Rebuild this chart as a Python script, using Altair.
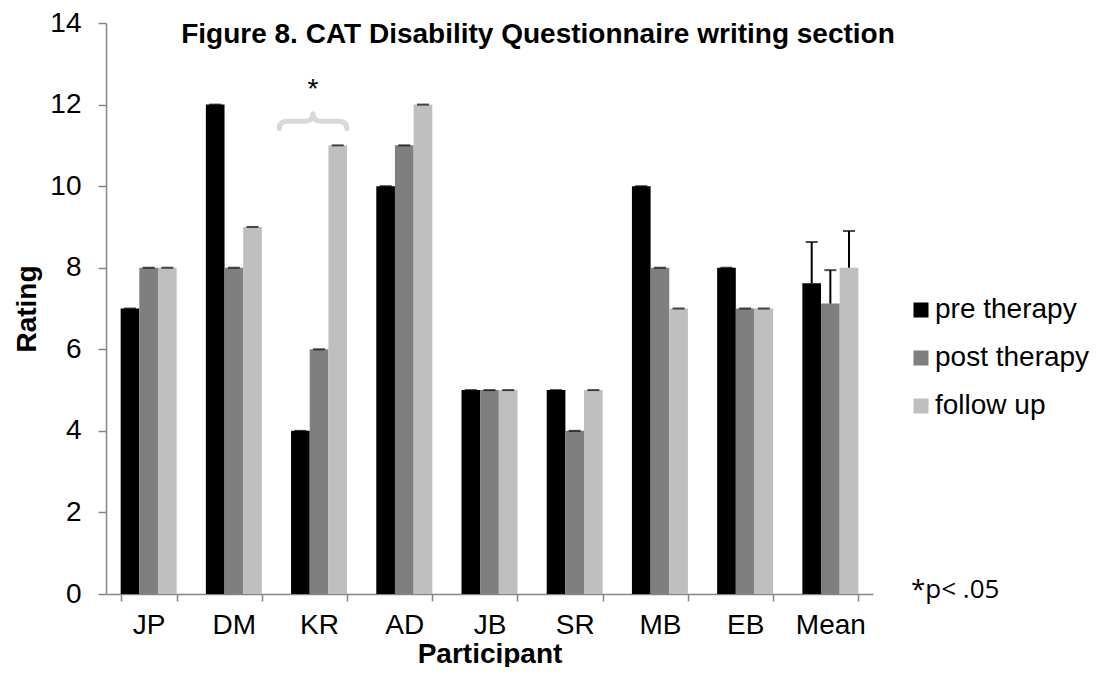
import altair as alt
import pandas as pd

participants = ["JP", "DM", "KR", "AD", "JB", "SR", "MB", "EB", "Mean"]
phases = ["pre therapy", "post therapy", "follow up"]
pre_therapy = [7, 12, 4, 10, 5, 5, 10, 8, 7.62]
post_therapy = [8, 8, 6, 11, 5, 4, 8, 7, 7.12]
follow_up = [8, 9, 11, 12, 5, 5, 7, 7, 8.0]
pre_err = [0, 0, 0, 0, 0, 0, 0, 0, 1.01]
post_err = [0, 0, 0, 0, 0, 0, 0, 0, 0.82]
follow_err = [0, 0, 0, 0, 0, 0, 0, 0, 0.90]
phase_colors = ["#000000", "#7f7f7f", "#bfbfbf"]
y_ticks = [0, 2, 4, 6, 8, 10, 12, 14]

rows = []
for phase, vals, errs in zip(phases, [pre_therapy, post_therapy, follow_up],
                             [pre_err, post_err, follow_err]):
    for p, v, e in zip(participants, vals, errs):
        rows.append({"Participant": p, "Phase": phase, "Rating": v, "Top": v + e})
df = pd.DataFrame(rows)

FONT = "Liberation Sans"

x_enc = alt.X(
    "Participant:N",
    sort=participants,
    scale=alt.Scale(paddingInner=0.343, paddingOuter=0.172),
    axis=alt.Axis(
        title="Participant", labelAngle=0, tickBand="extent", tickSize=7,
        labelPadding=10, titlePadding=1, labelFontSize=28, titleFontSize=28,
        titleFontWeight="bold",
    ),
)
xoff_enc = alt.XOffset("Phase:N", sort=phases,
                       scale=alt.Scale(paddingInner=0, paddingOuter=0))

base = alt.Chart(df)

bars = base.mark_bar().encode(
    x=x_enc,
    xOffset=xoff_enc,
    y=alt.Y(
        "Rating:Q",
        scale=alt.Scale(domain=[0, 14], nice=False),
        axis=alt.Axis(
            title="Rating", values=y_ticks, grid=False, tickSize=8,
            labelPadding=17, titlePadding=8, labelFontSize=28, titleFontSize=28,
            titleFontWeight="bold",
        ),
    ),
    color=alt.Color(
        "Phase:N",
        sort=phases,
        scale=alt.Scale(domain=phases, range=phase_colors),
        legend=alt.Legend(
            title=None, orient="none", legendX=801, legendY=273,
            symbolType="square", symbolSize=225, symbolStrokeWidth=0,
            labelFontSize=28, labelFont=FONT, labelOffset=0, rowPadding=20,
            padding=0,
        ),
    ),
)

err_rules = base.mark_rule(color="black", strokeWidth=2).encode(
    x=alt.X("Participant:N", sort=participants),
    xOffset=alt.XOffset("Phase:N", sort=phases),
    y="Rating:Q",
    y2="Top:Q",
)

err_caps = base.mark_tick(color="black", thickness=2, size=12).encode(
    x=alt.X("Participant:N", sort=participants),
    xOffset=alt.XOffset("Phase:N", sort=phases),
    y="Top:Q",
)

one = alt.Data(values=[{}])

brace = alt.Chart(one).mark_point(
    shape="M -1 0.22 Q -1 0 -0.75 0 L -0.25 0 Q 0 0 0 -0.22 Q 0 0 0.25 0 L 0.75 0 Q 1 0 1 0.22",
    size=4570, filled=False, stroke="#d9d9d9", strokeWidth=5, strokeCap="round",
    strokeJoin="round", opacity=1, xOffset=-6,
).encode(x=alt.datum("KR"), y=alt.datum(11.59))

star = alt.Chart(one).mark_text(
    text="*", font=FONT, fontSize=28, baseline="alphabetic", align="center",
    color="black", xOffset=-6,
).encode(x=alt.datum("KR"), y=alt.datum(12.16))

title = alt.Chart(one).mark_text(
    text="Figure 8. CAT Disability Questionnaire writing section",
    font=FONT, fontSize=28, fontWeight="bold", baseline="alphabetic",
    align="center", color="black",
).encode(x=alt.value(432), y=alt.value(20))

note = alt.Chart(one).mark_text(
    text="*p< .05", font="Open Sans", fontSize=26, baseline="alphabetic",
    align="left", color="black",
).encode(x=alt.value(805), y=alt.value(575))

chart = alt.layer(bars, err_rules, err_caps, brace, star, title, note).properties(
    width=767, height=571,
    autosize=alt.AutoSizeParams(type="none"),
    padding={"left": 98, "top": 15, "right": 221, "bottom": 73},
).configure_view(stroke=None).configure_axis(
    labelFont=FONT, titleFont=FONT, labelColor="black", titleColor="black",
    domainColor="#868686", tickColor="#868686", domainWidth=1.5, tickWidth=1.5,
)

chart.save("out.html", embed_options={"renderer": "svg", "actions": False})
